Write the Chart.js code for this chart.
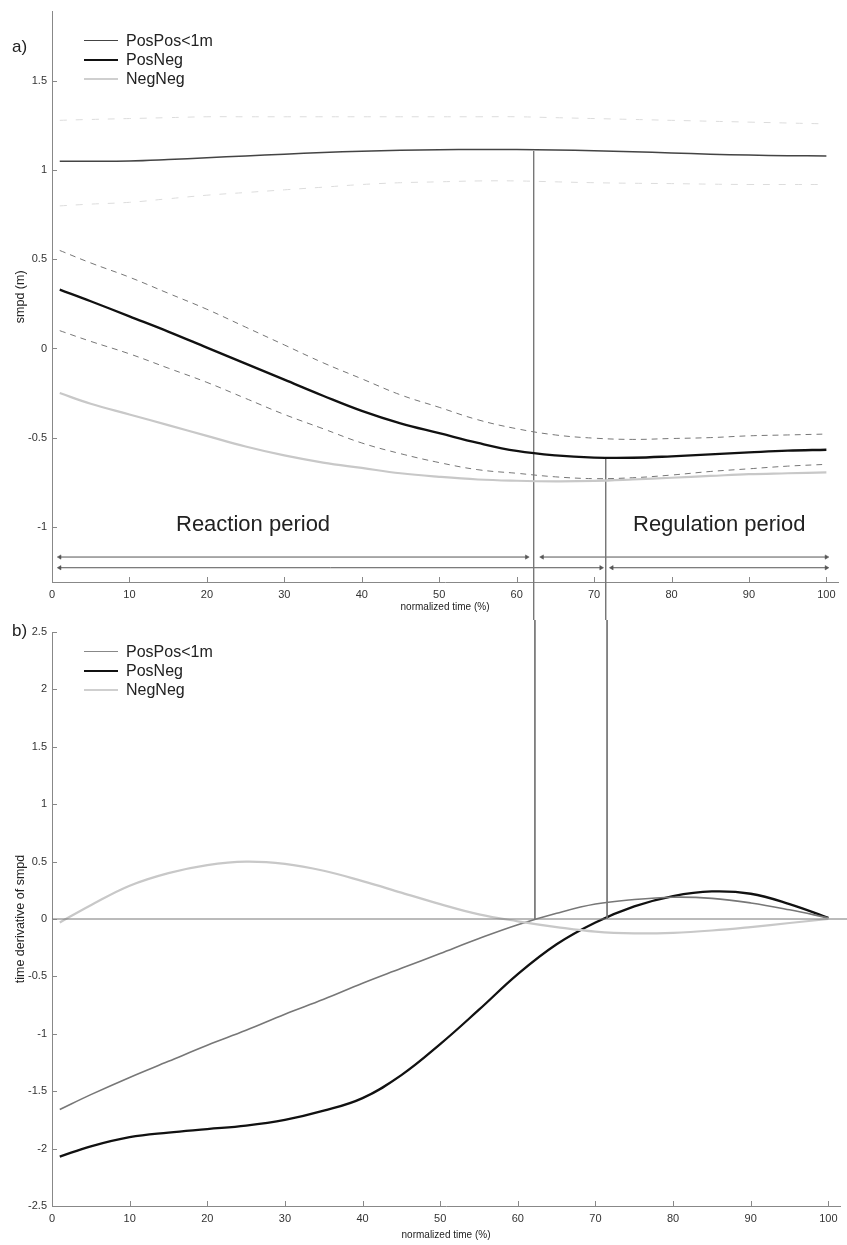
<!DOCTYPE html>
<html lang="en">
<head>
  <meta charset="UTF-8">
  <title>smpd</title>
  <script src="https://cdn.jsdelivr.net/npm/chart.js"></script>
  <style>
    body { margin: 0; background: #fff; font-family: 'Liberation Sans', Arial, sans-serif; }
    .wrap { position: relative; width: 847px; height: 1245px; }
    canvas { position: absolute; left: 0; }
    .txt { position: absolute; color: #222; white-space: nowrap; }
    .legend { position: absolute; left: 84px; font-size: 16px; line-height: 19px; color: #222; }
    .legend div { position: relative; padding-left: 42px; }
    .legend span { position: absolute; left: 0; top: 9px; width: 34px; }
  </style>
</head>
<body>
  <div class="wrap">
    <canvas id="chartA" width="847" height="620" style="top:0"></canvas>
    <canvas id="chartB" width="847" height="625" style="top:620px"></canvas>

    <div class="txt" style="left:12px;top:37px;font-size:17px">a)</div>
    <div class="txt" style="left:12px;top:621px;font-size:17px">b)</div>

    <div class="legend" style="top:31px">
      <div><span style="border-top:1.5px solid #444"></span>PosPos&lt;1m</div>
      <div><span style="border-top:2.5px solid #111"></span>PosNeg</div>
      <div><span style="border-top:2px solid #cfcfcf"></span>NegNeg</div>
    </div>
    <div class="legend" style="top:642px">
      <div><span style="border-top:1.5px solid #888"></span>PosPos&lt;1m</div>
      <div><span style="border-top:2.5px solid #111"></span>PosNeg</div>
      <div><span style="border-top:2px solid #cfcfcf"></span>NegNeg</div>
    </div>

    <div class="txt" style="left:176px;top:511px;font-size:22px">Reaction period</div>
    <div class="txt" style="left:633px;top:511px;font-size:22px">Regulation period</div>
  </div>

  <script>
    // normalized time (%)
    const xPct = [1, 5, 10, 15, 20, 25, 30, 35, 40, 45, 50, 55, 60, 65, 70, 75, 80, 85, 90, 95, 100];
    const xTicks = [0, 10, 20, 30, 40, 50, 60, 70, 80, 90, 100];

    // a) smpd (m)
    const posPosA   = [1.05, 1.05, 1.052, 1.06, 1.07, 1.08, 1.09, 1.10, 1.107, 1.112, 1.115, 1.116, 1.116, 1.114, 1.11, 1.104, 1.097, 1.09, 1.085, 1.082, 1.08];
    const posPosUpA = [1.28, 1.285, 1.29, 1.295, 1.30, 1.30, 1.30, 1.30, 1.30, 1.30, 1.30, 1.30, 1.30, 1.295, 1.29, 1.285, 1.28, 1.275, 1.27, 1.265, 1.26];
    const posPosLoA = [0.80, 0.81, 0.82, 0.84, 0.86, 0.875, 0.89, 0.905, 0.92, 0.93, 0.935, 0.94, 0.94, 0.935, 0.93, 0.927, 0.925, 0.922, 0.92, 0.92, 0.92];
    const posNegA   = [0.33, 0.265, 0.18, 0.095, 0.005, -0.085, -0.175, -0.265, -0.35, -0.42, -0.475, -0.53, -0.575, -0.60, -0.612, -0.613, -0.605, -0.594, -0.583, -0.573, -0.568];
    const posNegUpA = [0.55, 0.48, 0.40, 0.31, 0.22, 0.12, 0.02, -0.08, -0.17, -0.26, -0.33, -0.40, -0.45, -0.485, -0.503, -0.51, -0.505, -0.50, -0.49, -0.485, -0.48];
    const posNegLoA = [0.10, 0.04, -0.03, -0.11, -0.19, -0.28, -0.37, -0.45, -0.53, -0.59, -0.64, -0.68, -0.70, -0.72, -0.73, -0.725, -0.71, -0.69, -0.675, -0.66, -0.65];
    const negNegA   = [-0.25, -0.31, -0.37, -0.43, -0.49, -0.55, -0.60, -0.64, -0.67, -0.70, -0.72, -0.735, -0.742, -0.745, -0.743, -0.735, -0.725, -0.715, -0.705, -0.70, -0.695];
    const yTicksA = [-1, -0.5, 0, 0.5, 1, 1.5];

    // b) time derivative of smpd
    const posPosB = [-1.66, -1.53, -1.38, -1.24, -1.10, -0.97, -0.83, -0.70, -0.56, -0.43, -0.30, -0.17, -0.05, 0.05, 0.13, 0.17, 0.19, 0.18, 0.14, 0.08, 0.01];
    const posNegB = [-2.07, -1.98, -1.90, -1.86, -1.83, -1.80, -1.75, -1.67, -1.56, -1.36, -1.09, -0.79, -0.48, -0.22, -0.03, 0.11, 0.20, 0.24, 0.22, 0.13, 0.01];
    const negNegB = [-0.03, 0.12, 0.29, 0.40, 0.47, 0.50, 0.48, 0.42, 0.33, 0.23, 0.13, 0.04, -0.02, -0.07, -0.11, -0.125, -0.12, -0.10, -0.07, -0.035, 0.0];
    const yTicksB = [-2.5, -2, -1.5, -1, -0.5, 0, 0.5, 1, 1.5, 2, 2.5];

    // period boundaries (%)
    const reactEnd = 62.2;
    const regStart = 71.5;
    const markA1 = 1.108;   // where the boundary lines start in a)
    const markA2 = -0.613;
    // arrow rows in a)
    const arrowRow1 = -1.17;
    const arrowRow2 = -1.23;

    const pts = (ys) => xPct.map((x, i) => ({ x: x, y: ys[i] }));
    const seg = (x0, x1, y) => [{ x: x0, y: y }, { x: x1, y: y }];

    function curve(data, color, width, dash) {
      return {
        data: data, borderColor: color, borderWidth: width, borderDash: dash || [],
        pointRadius: 0, tension: 0.4, fill: false
      };
    }
    function straight(data, color) {
      return { data: data, borderColor: color, borderWidth: 1, pointRadius: 0, clip: false, tension: 0 };
    }
    function arrow(data, rot) {
      return {
        data: data, borderColor: '#555', borderWidth: 1, tension: 0,
        pointStyle: 'triangle', pointRadius: 2.5, pointRotation: rot,
        pointBackgroundColor: '#555', pointBorderColor: '#555', pointBorderWidth: 0.5
      };
    }

    // inward tick marks, MATLAB style
    const innerTicks = {
      id: 'innerTicks',
      afterDraw(chart) {
        const ctx = chart.ctx;
        const xs = chart.scales.x, ys = chart.scales.y;
        ctx.save();
        ctx.strokeStyle = '#888';
        ctx.lineWidth = 1;
        ctx.beginPath();
        xs.ticks.forEach((t, i) => {
          const px = Math.round(xs.getPixelForTick(i)) + 0.5;
          ctx.moveTo(px, xs.top); ctx.lineTo(px, xs.top - 5);
        });
        ys.ticks.forEach((t, i) => {
          const py = Math.round(ys.getPixelForTick(i)) + 0.5;
          ctx.moveTo(ys.right, py); ctx.lineTo(ys.right + 5, py);
        });
        ctx.stroke();
        ctx.restore();
      }
    };

    function axes(yMin, yMax, yTicks, yTitle, xAxisH, xTitlePad) {
      const tickFont = { family: "'Liberation Sans', Arial, sans-serif", size: 11 };
      return {
        x: {
          type: 'linear', min: 0, max: 101.5,
          grid: { display: false, drawTicks: false },
          border: { display: true, color: '#888', width: 1 },
          afterBuildTicks: (s) => { s.ticks = xTicks.map(v => ({ value: v })); },
          afterFit: (s) => { s.height = xAxisH; },
          ticks: { color: '#333', font: tickFont, padding: 6, maxRotation: 0, callback: (v) => String(v) },
          title: { display: true, text: 'normalized time (%)', color: '#222',
                   font: { family: "'Liberation Sans', Arial, sans-serif", size: 10 },
                   padding: { top: 0, bottom: xTitlePad } }
        },
        y: {
          type: 'linear', min: yMin, max: yMax,
          grid: { display: false, drawTicks: false },
          border: { display: true, color: '#888', width: 1 },
          afterBuildTicks: (s) => { s.ticks = yTicks.map(v => ({ value: v })); },
          afterFit: (s) => { s.width = 52; },
          ticks: { color: '#333', font: tickFont, padding: 5, callback: (v) => String(v) },
          title: { display: true, text: yTitle, color: '#222',
                   font: { family: "'Liberation Sans', Arial, sans-serif", size: 12.5 },
                   padding: { top: 13, bottom: 0 } }
        }
      };
    }

    const common = {
      responsive: false,
      animation: false,
      plugins: { legend: { display: false }, tooltip: { enabled: false } }
    };

    new Chart(document.getElementById('chartA'), {
      type: 'line',
      data: {
        datasets: [
          curve(pts(posPosUpA), '#dcdcdc', 1, [7, 9]),
          curve(pts(posPosLoA), '#dcdcdc', 1, [7, 9]),
          curve(pts(posNegUpA), '#777', 1, [6, 5]),
          curve(pts(posNegLoA), '#777', 1, [6, 5]),
          curve(pts(negNegA), '#c8c8c8', 2.2),
          curve(pts(posPosA), '#444', 1.5),
          curve(pts(posNegA), '#111', 2.3),
          straight([{ x: reactEnd, y: markA1 }, { x: reactEnd, y: -3 }], '#777'),
          straight([{ x: regStart, y: markA2 }, { x: regStart, y: -3 }], '#777'),
          arrow(seg(1, 61.3, arrowRow1), [-90, 90]),
          arrow(seg(63.3, 100, arrowRow1), [-90, 90]),
          arrow(seg(1, 70.9, arrowRow2), [-90, 90]),
          arrow(seg(72.3, 100, arrowRow2), [-90, 90])
        ]
      },
      options: Object.assign({}, common, {
        layout: { padding: { top: 10, right: 9, left: 0, bottom: 0 } },
        scales: axes(-1.31, 1.89, yTicksA, 'smpd (m)', 38, 7)
      }),
      plugins: [innerTicks]
    });

    new Chart(document.getElementById('chartB'), {
      type: 'line',
      data: {
        datasets: [
          straight([{ x: 0, y: 0 }, { x: 104, y: 0 }], '#777'),
          straight([{ x: reactEnd, y: 4 }, { x: reactEnd, y: 0 }], '#777'),
          straight([{ x: regStart, y: 4 }, { x: regStart, y: 0 }], '#777'),
          curve(pts(negNegB), '#c8c8c8', 2.2),
          curve(pts(posPosB), '#777', 1.6),
          curve(pts(posNegB), '#111', 2.3)
        ]
      },
      options: Object.assign({}, common, {
        layout: { padding: { top: 12, right: 7, left: 0, bottom: 0 } },
        scales: axes(-2.5, 2.5, yTicksB, 'time derivative of smpd', 39, 4)
      }),
      plugins: [innerTicks]
    });
  </script>
</body>
</html>
